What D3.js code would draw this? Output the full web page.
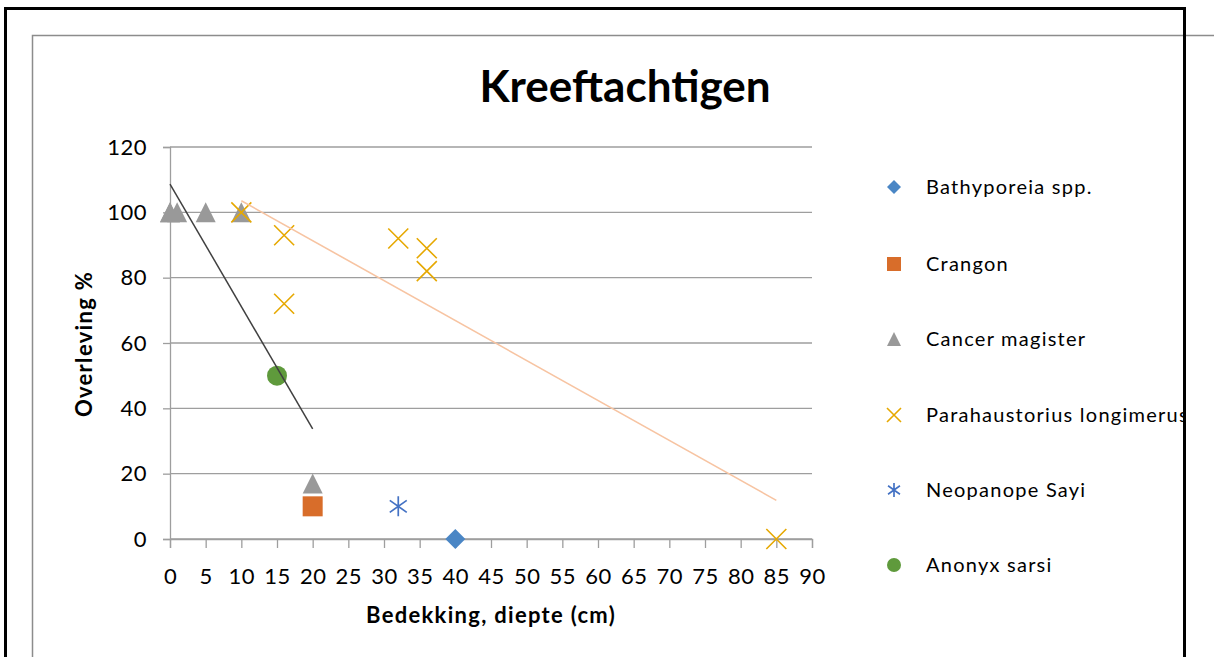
<!DOCTYPE html>
<html>
<head>
<meta charset="utf-8">
<script src="https://cdn.jsdelivr.net/npm/d3@7"></script>
<style>
  html, body { margin: 0; padding: 0; background: #fff; }
  svg { display: block; font-family: Lato, "Open Sans", sans-serif; }
</style>
</head>
<body>
<svg id="chart" width="1214" height="657"></svg>
<script>
// Survival of crustaceans against burial depth
const seriesNames = ["Bathyporeia spp.", "Crangon", "Cancer magister",
  "Parahaustorius longimerus", "Neopanope Sayi", "Anonyx sarsi"];

const bathyporeiaX = [40];
const bathyporeiaY = [0];
const crangonX = [20];
const crangonY = [10];
const cancerX = [0, 0, 1, 5, 10, 20];
const cancerY = [100, 100, 100, 100, 100, 17];
const parahaustoriusX = [10, 16, 16, 32, 36, 36, 85];
const parahaustoriusY = [100, 93, 72, 92, 89, 82, 0];
const neopanopeX = [32];
const neopanopeY = [10];
const anonyxX = [15];
const anonyxY = [50];

const xTicks = d3.range(0, 91, 5);
const yTicks = [0, 20, 40, 60, 80, 100, 120];

const svg = d3.select("#chart");

// chart frame
svg.append("rect").attr("x", 32.5).attr("y", 35.5).attr("width", 1300).attr("height", 700)
  .attr("fill", "none").attr("stroke", "#8c8c8c").attr("stroke-width", 1.5);

const x = d3.scaleLinear().domain([0, 90]).range([170, 812]);
const y = d3.scaleLinear().domain([0, 120]).range([539, 147]);

// gridlines
svg.append("g").selectAll("line").data(yTicks).join("line")
  .attr("x1", x(0)).attr("x2", x(90))
  .attr("y1", d => y(d)).attr("y2", d => y(d))
  .attr("stroke", "#9e9e9e").attr("stroke-width", 1.3);

// axes
const xAxis = svg.append("g").attr("transform", `translate(0,${y(0)})`)
  .call(d3.axisBottom(x).tickValues(xTicks).tickSize(9).tickPadding(20).tickFormat(d3.format("d")));
const yAxis = svg.append("g").attr("transform", `translate(${x(0)},0)`)
  .call(d3.axisLeft(y).tickValues(yTicks).tickSize(7).tickPadding(16).tickFormat(d3.format("d")));
[xAxis, yAxis].forEach(g => {
  g.select(".domain").attr("stroke", "#9e9e9e").attr("stroke-width", 1.3);
  g.selectAll(".tick line").attr("stroke", "#9e9e9e").attr("stroke-width", 1.3);
  g.selectAll(".tick text").attr("fill", "#000").style("font-size", "22px")
    .style("font-family", "Lato, sans-serif").style("letter-spacing", "0.5px");
});
xAxis.selectAll(".tick text").attr("dy", "0.71em");

// marker shapes
const colors = ["#4a86c5", "#d86d2a", "#999999", "#e6a800", "#4472c4", "#5f9a3c"];
function marker(g, type, size, color) {
  const h = size / 2;
  if (type === 0) {
    g.append("path").attr("d", `M0,${-h}L${h},0L0,${h}L${-h},0Z`).attr("fill", color);
  } else if (type === 1) {
    g.append("rect").attr("x", -h).attr("y", -h).attr("width", size).attr("height", size).attr("fill", color);
  } else if (type === 2) {
    g.append("path").attr("d", `M0,${-h}L${h},${h}L${-h},${h}Z`).attr("fill", color);
  } else if (type === 3) {
    g.append("path").attr("d", `M${-h},${-h}L${h},${h}M${h},${-h}L${-h},${h}`)
      .attr("stroke", color).attr("stroke-width", 1.6).attr("fill", "none");
  } else if (type === 4) {
    const a = h * 0.85, b = h * 0.6;
    g.append("path").attr("d", `M0,${-h}L0,${h}M${-a},${-b}L${a},${b}M${a},${-b}L${-a},${b}`)
      .attr("stroke", color).attr("stroke-width", 1.7).attr("fill", "none");
  } else {
    g.append("circle").attr("r", h).attr("fill", color);
  }
}

const seriesData = [
  [bathyporeiaX, bathyporeiaY], [crangonX, crangonY], [cancerX, cancerY],
  [parahaustoriusX, parahaustoriusY], [neopanopeX, neopanopeY], [anonyxX, anonyxY]
];

const pts = svg.append("g");
seriesData.forEach(([xs, ys], i) => {
  xs.forEach((xv, j) => {
    const g = pts.append("g").attr("transform", `translate(${x(xv)},${y(ys[j])})`);
    marker(g, i, 20, colors[i]);
  });
});

// linear trendlines (least squares) over each series' x range
function trend(xs, ys) {
  const mx = d3.mean(xs), my = d3.mean(ys);
  const sxy = d3.sum(xs, (v, k) => (v - mx) * (ys[k] - my));
  const sxx = d3.sum(xs, v => (v - mx) * (v - mx));
  const b = sxy / sxx, a = my - b * mx;
  const [x0, x1] = d3.extent(xs);
  return [[x0, a + b * x0], [x1, a + b * x1]];
}
const line = d3.line().x(d => x(d[0])).y(d => y(d[1]));
svg.append("path").attr("d", line(trend(cancerX, cancerY)))
  .attr("stroke", "#404040").attr("stroke-width", 1.5).attr("fill", "none");
svg.append("path").attr("d", line(trend(parahaustoriusX, parahaustoriusY)))
  .attr("stroke", "#f7c4a2").attr("stroke-width", 1.6).attr("fill", "none");

// title and axis titles
svg.append("text").attr("x", 625).attr("y", 102).attr("text-anchor", "middle")
  .style("font-size", "44px").style("font-weight", "bold").text("Kreeftachtigen");
svg.append("text").attr("x", 491).attr("y", 623).attr("text-anchor", "middle")
  .style("font-size", "22px").style("font-weight", "bold").style("letter-spacing", "1.3px")
  .text("Bedekking, diepte (cm)");
svg.append("text").attr("transform", "translate(92,344) rotate(-90)").attr("text-anchor", "middle")
  .style("font-size", "22px").style("font-weight", "bold").style("letter-spacing", "1.3px")
  .text("Overleving %");

// legend
svg.append("clipPath").attr("id", "legclip").append("rect")
  .attr("x", 860).attr("y", 150).attr("width", 323).attr("height", 450);
const legend = svg.append("g").attr("clip-path", "url(#legclip)");
const legY = [187, 264, 339, 415, 490, 565];
seriesNames.forEach((name, i) => {
  const g = legend.append("g").attr("transform", `translate(894,${legY[i]})`);
  marker(g, i, 14, colors[i]);
  legend.append("text").attr("x", 926).attr("y", legY[i]).attr("dy", "0.35em")
    .style("font-size", "20px").style("letter-spacing", "1.25px").text(name);
});

// outer border
svg.append("path").attr("d", "M5.5,700V8.5H1184.5V700")
  .attr("fill", "none").attr("stroke", "#000").attr("stroke-width", 3);
</script>
</body>
</html>
